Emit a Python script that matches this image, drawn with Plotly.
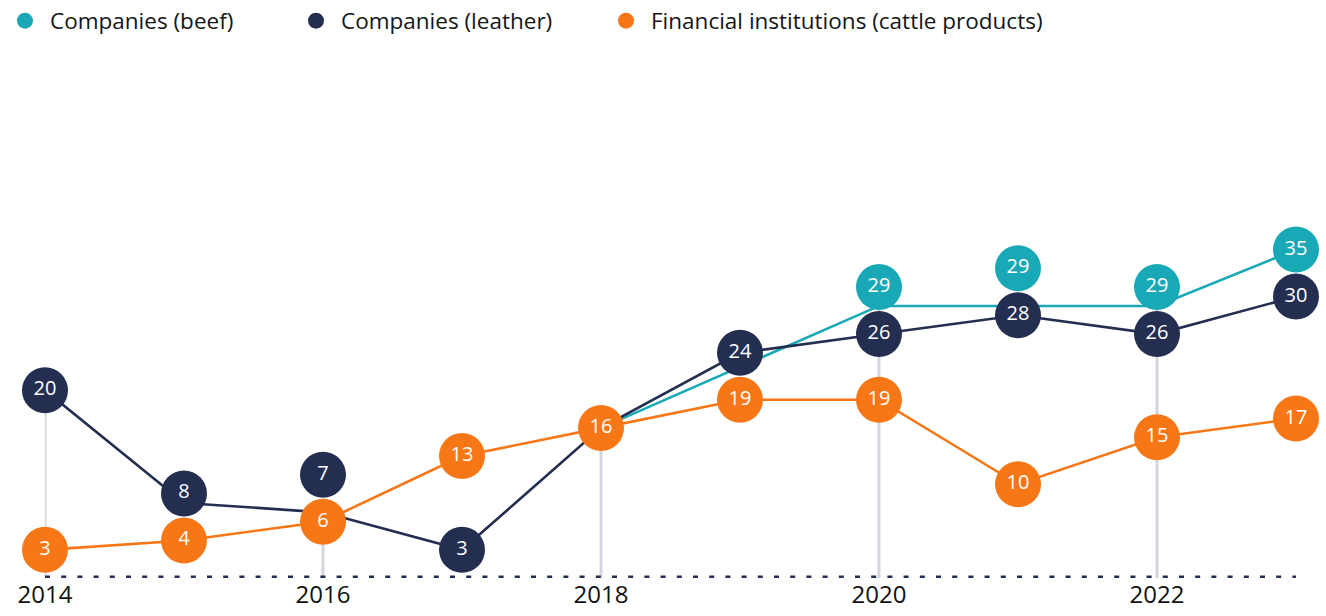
import plotly.graph_objects as go

# ---- data ----
years = [2014, 2015, 2016, 2017, 2018, 2019, 2020, 2021, 2022, 2023]
beef = [None, None, None, None, 16, None, 29, 29, 29, 35]
leather = [20, 8, 7, 3, 16, 24, 26, 28, 26, 30]
finance = [3, 4, 6, 13, 16, 19, 19, 10, 15, 17]
names = ["Companies (beef)", "Companies (leather)", "Financial institutions (cattle products)"]
tick_years = [2014, 2016, 2018, 2020, 2022]

TEAL = "#19a9b6"
NAVY = "#232e50"
ORANGE = "#f77717"
GREY = "#d4d6de"
FONT = "Open Sans"

series = [(names[0], beef, TEAL), (names[1], leather, NAVY), (names[2], finance, ORANGE)]

W, H = 1326, 616
M = dict(l=45, r=30, t=62, b=38)
Y_MAX = 55
plot_h = H - M["t"] - M["b"]
px_per_unit = plot_h / Y_MAX
MARKER = 46
gap = (MARKER + 1) / px_per_unit

# label (bubble) positions: avoid overlapping bubbles at the same year
label_y = [[None] * len(years) for _ in series]
for j in range(len(years)):
    kept = {}
    for i, (_, vals, _) in enumerate(series):
        if vals[j] is not None:
            kept[vals[j]] = i  # identical values: only the last series shows a bubble
    prev = None
    for v, i in sorted(kept.items()):
        y = v if prev is None else max(v, prev + gap)
        label_y[i][j] = y
        prev = y

fig = go.Figure()

# lines
for name, vals, col in series:
    fig.add_trace(go.Scatter(
        x=years, y=vals, mode="lines", connectgaps=True,
        line=dict(color=col, width=2.6), showlegend=False, hoverinfo="skip",
        cliponaxis=False,
    ))

# bubbles with values
for i, (name, vals, col) in enumerate(series):
    xs = [years[j] for j in range(len(years)) if label_y[i][j] is not None]
    ys = [label_y[i][j] for j in range(len(years)) if label_y[i][j] is not None]
    ts = [str(vals[j]) for j in range(len(years)) if label_y[i][j] is not None]
    fig.add_trace(go.Scatter(
        x=xs, y=ys, mode="markers+text", name=name, text=ts,
        textposition="middle center",
        textfont=dict(color="white", size=20, family=FONT),
        marker=dict(color=col, size=MARKER, line=dict(width=0)),
        cliponaxis=False, showlegend=True,
        legend="legend2" if i == 2 else "legend",
    ))

# vertical guide lines at tick years
for yr in tick_years:
    j = years.index(yr)
    top = max(v[j] for _, v, _ in series if v[j] is not None)
    fig.add_shape(type="line", x0=yr, x1=yr, y0=0, y1=top, xref="x", yref="y",
                  line=dict(color=GREY, width=3), layer="below")

# dotted baseline
fig.add_shape(type="line", x0=years[0], x1=years[-1], y0=0, y1=0, xref="x", yref="y",
              line=dict(color=NAVY, width=5, dash="5px,11.2px"), layer="above")

legend_common = dict(orientation="h", xref="container", yref="container",
                     y=1.0 - 21 / H, xanchor="left", yanchor="middle",
                     font=dict(size=22.5, color="#151515", family=FONT),
                     itemsizing="trace", itemwidth=40, bgcolor="rgba(0,0,0,0)")

fig.update_layout(
    width=W, height=H, margin=M,
    paper_bgcolor="white", plot_bgcolor="white",
    font=dict(family=FONT, color="#111111"),
    showlegend=True,
    legend=dict(**legend_common, x=0.0, entrywidth=236),
    legend2=dict(**legend_common, x=601 / W),
    xaxis=dict(range=[years[0], years[-1]], tickvals=tick_years,
               ticktext=[str(t) for t in tick_years], automargin=False,
               showgrid=False, zeroline=False, showline=False, ticks="",
               tickfont=dict(size=24, color="#111111", family=FONT)),
    yaxis=dict(range=[0, Y_MAX], visible=False, showgrid=False, zeroline=False,
               automargin=False),
)

fig.write_html("out.html", config={"displayModeBar": False},
               post_script="document.body.style.margin='0';document.body.style.overflow='hidden';")
